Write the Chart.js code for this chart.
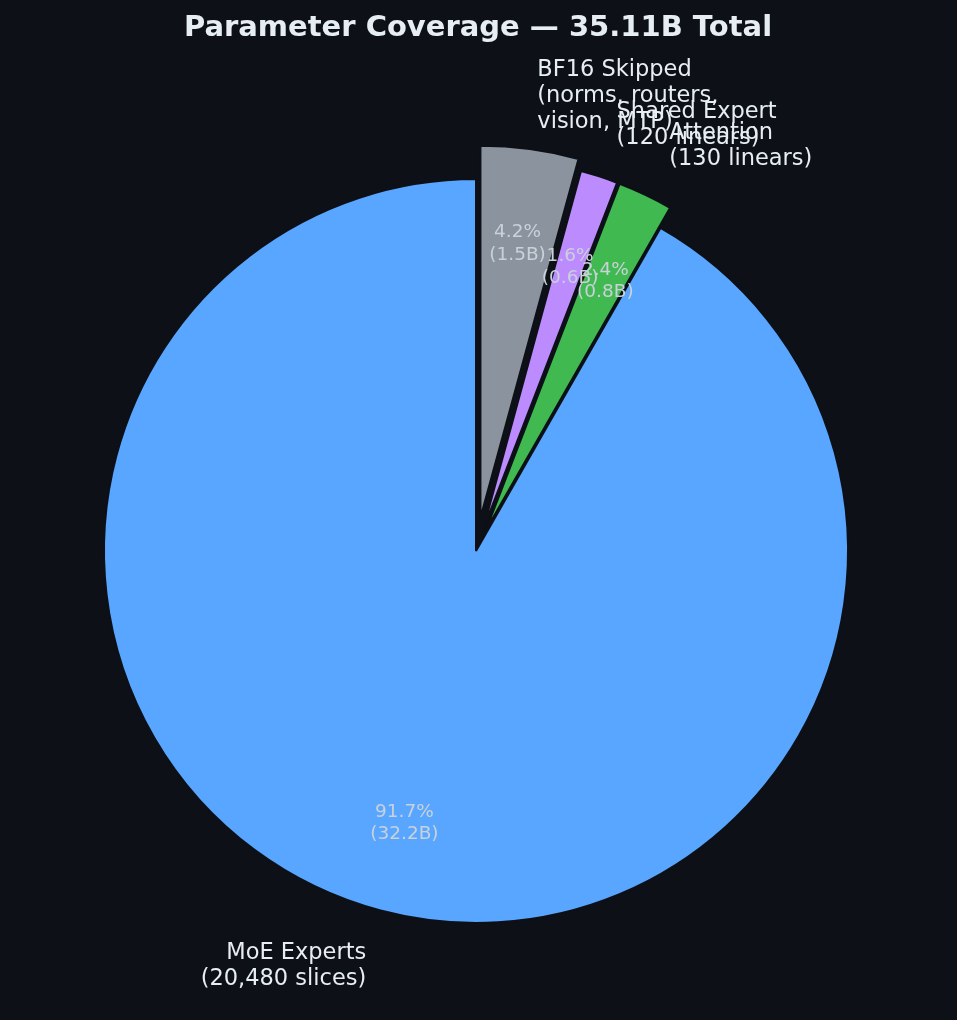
<!DOCTYPE html>
<html>
<head>
<meta charset="utf-8">
<script src="https://cdn.jsdelivr.net/npm/chart.js@4"></script>
<style>
  html, body { margin: 0; padding: 0; background: #0d1117; }
  canvas { display: block; }
</style>
</head>
<body>
<canvas id="pie" width="957" height="1020"></canvas>
<script>
// slices in clockwise order from 12 o'clock
const categories = [
  'BF16 Skipped\n(norms, routers,\nvision, MTP)',
  'Shared Expert\n(120 linears)',
  'Attention\n(130 linears)',
  'MoE Experts\n(20,480 slices)'
]
const paramsB = [1.49, 0.57, 0.84, 32.21]
const colors = ['#8b949e', '#bc8cff', '#3fb950', '#58a6ff']
const explode = [0.09, 0.06, 0.06, 0]

const total = paramsB.reduce((a, b) => a + b, 0)
const FONT = "'DejaVu Sans', 'Liberation Sans', sans-serif"

// push the small wedges out from the centre, like a matplotlib explode
const explodePlugin = {
  id: 'explode',
  afterDatasetsUpdate(chart) {
    const meta = chart.getDatasetMeta(0)
    meta.data.forEach((arc, i) => {
      const mid = (arc.startAngle + arc.endAngle) / 2
      const d = explode[i] * arc.outerRadius
      arc.x += Math.cos(mid) * d
      arc.y += Math.sin(mid) * d
    })
  }
}

function multiline(ctx, text, x, y, lh) {
  const lines = text.split('\n')
  const y0 = y - (lines.length - 1) * lh / 2
  lines.forEach((l, k) => ctx.fillText(l, x, y0 + k * lh))
}

const pieLabels = {
  id: 'pieLabels',
  afterDatasetsDraw(chart) {
    const ctx = chart.ctx
    const meta = chart.getDatasetMeta(0)
    ctx.save()
    ctx.textBaseline = 'middle'
    // draw in matplotlib's order (MoE first) so overlaps stack the same way
    for (let i = meta.data.length - 1; i >= 0; i--) {
      const arc = meta.data[i]
      const mid = (arc.startAngle + arc.endAngle) / 2
      const r = arc.outerRadius
      const lx = arc.x + Math.cos(mid) * r * 1.15
      const ly = arc.y + Math.sin(mid) * r * 1.15
      ctx.font = `22.5px ${FONT}`
      ctx.fillStyle = '#e6edf3'
      ctx.textAlign = lx > arc.x ? 'left' : 'right'
      multiline(ctx, categories[i], lx, ly + 2, 26)

      const px = arc.x + Math.cos(mid) * r * 0.75
      const py = arc.y + Math.sin(mid) * r * 0.75
      ctx.font = `18.5px ${FONT}`
      ctx.fillStyle = '#c9d1d9'
      ctx.textAlign = 'center'
      const pct = paramsB[i] / total * 100
      multiline(ctx, `${pct.toFixed(1)}%\n(${paramsB[i].toFixed(1)}B)`, px, py + 2.5, 22.5)
    }
    // title
    ctx.font = `bold 29px ${FONT}`
    ctx.fillStyle = '#e6edf3'
    ctx.textAlign = 'center'
    ctx.fillText('Parameter Coverage \u2014 35.11B Total', 478, 28)
    ctx.restore()
  }
}

new Chart(document.getElementById('pie'), {
  type: 'pie',
  data: {
    labels: categories,
    datasets: [{
      data: paramsB,
      backgroundColor: colors,
      borderColor: '#0d1117',
      borderWidth: 2,
      radius: 372
    }]
  },
  options: {
    responsive: false,
    animation: false,
    events: [],
    layout: { padding: { left: 0, right: 5, top: 100, bottom: 18 } },
    plugins: {
      legend: { display: false },
      tooltip: { enabled: false },
      title: { display: false }
    }
  },
  plugins: [explodePlugin, pieLabels]
})
</script>
</body>
</html>
